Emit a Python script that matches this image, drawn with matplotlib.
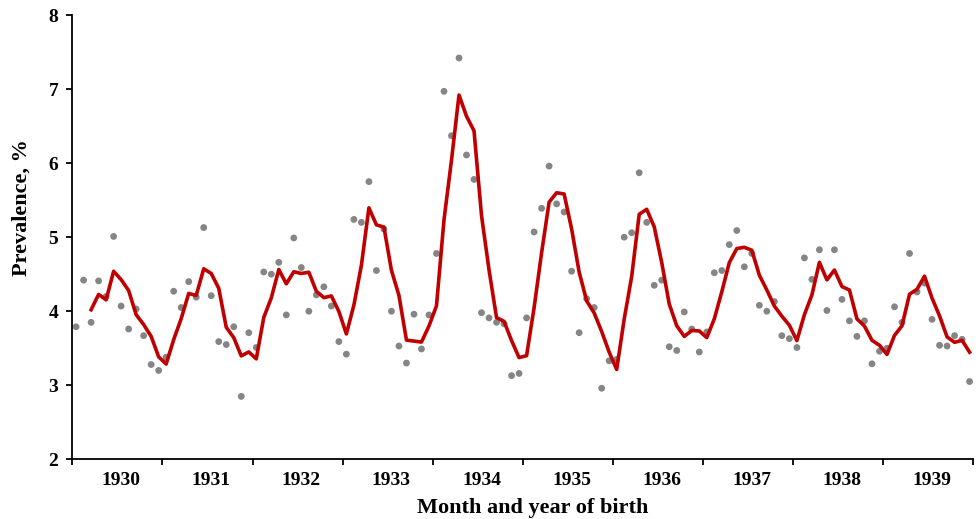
import numpy as np
import pandas as pd
import matplotlib
matplotlib.use("Agg")
import matplotlib.pyplot as plt

# monthly prevalence (%), Jan 1930 .. Dec 1939
prev_1930 = [3.79, 4.42, 3.85, 4.41, 4.20, 5.01, 4.07, 3.76, 4.03, 3.67, 3.28, 3.20]
prev_1931 = [3.38, 4.27, 4.05, 4.40, 4.19, 5.13, 4.21, 3.59, 3.55, 3.79, 2.85, 3.71]
prev_1932 = [3.51, 4.53, 4.50, 4.66, 3.95, 4.99, 4.59, 4.00, 4.22, 4.33, 4.07, 3.59]
prev_1933 = [3.42, 5.24, 5.20, 5.75, 4.55, 5.11, 4.00, 3.53, 3.30, 3.96, 3.49, 3.95]
prev_1934 = [4.78, 6.97, 6.37, 7.42, 6.11, 5.78, 3.98, 3.91, 3.85, 3.83, 3.13, 3.16]
prev_1935 = [3.91, 5.07, 5.39, 5.96, 5.45, 5.34, 4.54, 3.71, 4.17, 4.05, 2.96, 3.33]
prev_1936 = [3.35, 5.00, 5.06, 5.87, 5.20, 4.35, 4.42, 3.52, 3.47, 3.99, 3.76, 3.45]
prev_1937 = [3.72, 4.52, 4.55, 4.90, 5.09, 4.60, 4.78, 4.08, 4.00, 4.13, 3.67, 3.63]
prev_1938 = [3.51, 4.72, 4.43, 4.83, 4.01, 4.83, 4.16, 3.87, 3.66, 3.87, 3.29, 3.46]
prev_1939 = [3.50, 4.06, 3.85, 4.78, 4.26, 4.38, 3.89, 3.54, 3.53, 3.67, 3.62, 3.05]

years = [1930, 1931, 1932, 1933, 1934, 1935, 1936, 1937, 1938, 1939]

prevalence = (prev_1930 + prev_1931 + prev_1932 + prev_1933 + prev_1934 +
              prev_1935 + prev_1936 + prev_1937 + prev_1938 + prev_1939)

df = pd.DataFrame({"prev": prevalence})
df["month"] = np.arange(len(df)) + 0.5
# 3-month moving average trendline
df["ma3"] = df["prev"].rolling(3).mean()

plt.rcParams["font.family"] = ["Liberation Serif", "DejaVu Serif"]
plt.rcParams["font.weight"] = "bold"

fig = plt.figure(figsize=(9.8, 5.19), dpi=100)
ax = fig.add_axes([0.0738, 0.115, 0.9194, 0.856])

ax.scatter(df["month"], df["prev"], s=24, color="#858585", edgecolors="none", zorder=2)
ax.plot(df["month"], df["ma3"], color="#C00000", lw=2.6, zorder=3)

ax.set_xlim(0, 12 * len(years))
ax.set_ylim(2, 8)

for side in ["top", "right"]:
    ax.spines[side].set_visible(False)
for side in ["left", "bottom"]:
    ax.spines[side].set_linewidth(1.3)

ax.set_yticks(range(2, 9))
ax.tick_params(axis="y", direction="out", length=4, width=1.3, pad=6, labelsize=14)

# year boundaries as major ticks, year labels in the middle of each year
ax.set_xticks(np.arange(0, 12 * len(years) + 1, 12))
ax.set_xticklabels([])
ax.set_xticks(np.arange(len(years)) * 12 + 6.5, minor=True)
ax.set_xticklabels([str(y) for y in years], minor=True)
ax.tick_params(axis="x", which="major", direction="out", length=4, width=1.3)
ax.tick_params(axis="x", which="minor", length=0, pad=9, labelsize=14)

ax.set_xlabel("Month and year of birth", fontsize=16, fontweight="bold")
ax.set_ylabel("Prevalence, %", fontsize=16, fontweight="bold")
ax.xaxis.set_label_coords(0.511, -0.086)
ax.yaxis.set_label_coords(-0.045, 0.566)

fig.savefig("out.png", dpi=100)
